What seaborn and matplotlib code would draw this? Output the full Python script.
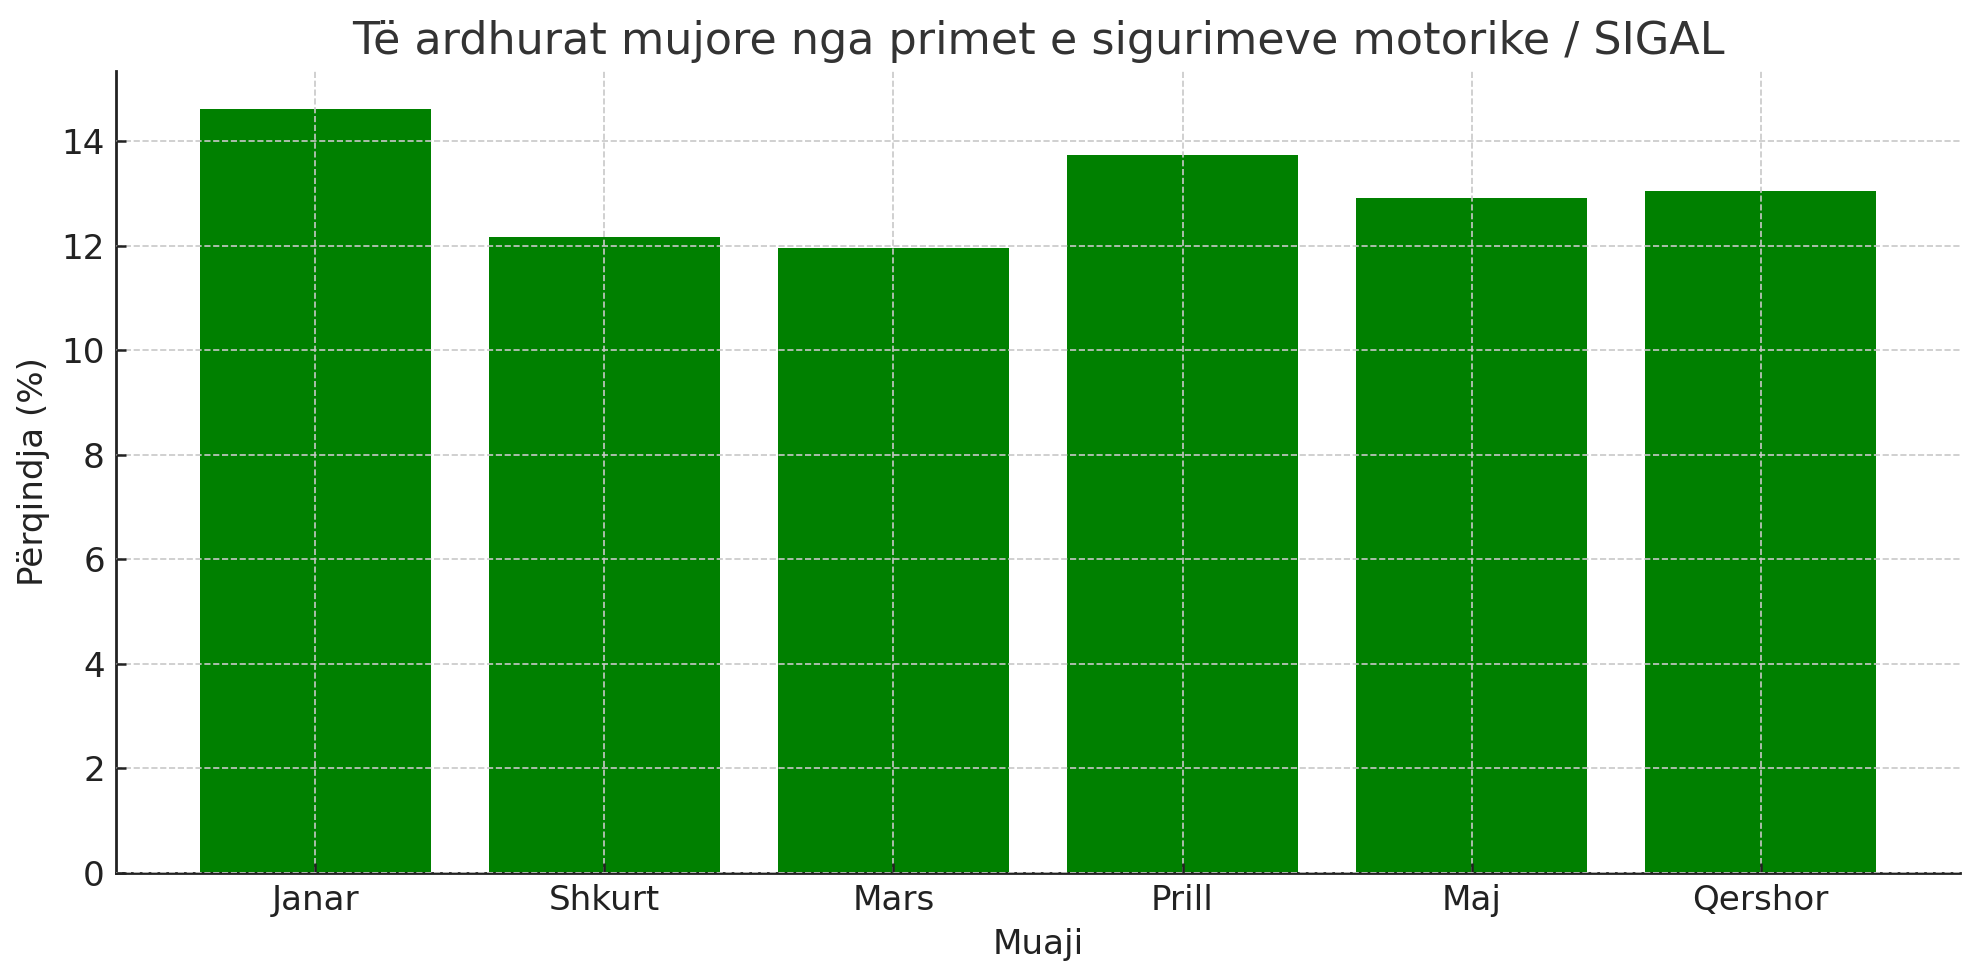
import matplotlib
matplotlib.use("Agg")
import matplotlib.pyplot as plt
import seaborn as sns
import pandas as pd

months = ["Janar", "Shkurt", "Mars", "Prill", "Maj", "Qershor"]
values = [14.62, 12.17, 11.96, 13.74, 12.92, 13.05]

title = "Të ardhurat mujore nga primet e sigurimeve motorike / SIGAL"
xlabel = "Muaji"
ylabel = "Përqindja (%)"

sns.set_style("ticks")
plt.rcParams["font.family"] = ["DejaVu Sans"]

df = pd.DataFrame({"Muaji": months, "Vlera": values})

fig = plt.figure(figsize=(1979 / 200, 980 / 200), dpi=200)
ax = fig.add_axes([116 / 1979, 1 - 873 / 980, (1960 - 116) / 1979, (873 - 70.7) / 980])

sns.barplot(data=df, x="Muaji", y="Vlera", color="#008000", saturation=1,
            width=0.8, ax=ax, edgecolor="none", linewidth=0)

ax.set_xlim(-0.69, 5.69)
ax.set_ylim(0, max(values) * 1.05)

ax.set_title(title, fontsize=16.0, color="#333333", pad=6)
ax.set_xlabel(xlabel, fontsize=12.3, color="#222222")
ax.set_ylabel(ylabel, fontsize=12.3, color="#222222")
ax.tick_params(axis="both", direction="in", labelsize=12.3, colors="#222222",
               length=3.5, width=0.9, pad=4)

ax.grid(True, linestyle="--", color="#c8c8c8", linewidth=0.6)
ax.set_axisbelow(False)
for s in ["top", "right"]:
    ax.spines[s].set_visible(False)
for s in ["left", "bottom"]:
    ax.spines[s].set_color("#222222")
    ax.spines[s].set_linewidth(1.0)

fig.savefig("out.png", dpi=200)
